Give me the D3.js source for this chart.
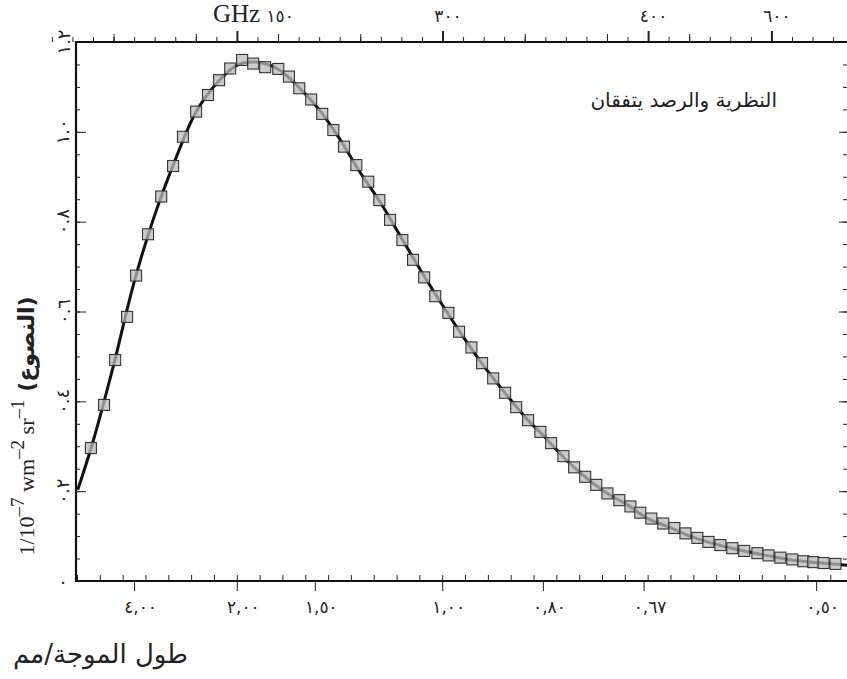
<!DOCTYPE html>
<html>
<head>
<meta charset="utf-8">
<script src="https://cdn.jsdelivr.net/npm/d3@7"></script>
<style>
body{margin:0;background:#fff}
svg{display:block}
</style>
</head>
<body>
<script>
const m={width:847,height:679,left:76,top:42,right:849,bottom:581}

// measured points, x in cm-1, y in 1e-7 W m-2 sr-1
const obsNu=[1.45,1.77,2.04,2.33,2.55,2.84,3.16,3.45,3.69,4.01,4.30,4.57,4.84,5.13,5.40,5.69,6.01,6.27,6.52,6.81,7.08,7.35,7.61,7.91,8.20,8.47,8.73,9.03,9.29,9.56,9.83,10.15,10.41,10.71,10.97,11.24,11.53,11.80,12.09,12.39,12.65,12.95,13.21,13.48,13.75,14.02,14.31,14.58,14.82,15.09,15.38,15.65,15.92,16.21,16.48,16.77,17.06,17.35,17.67,17.94,18.23,18.52,18.79,19.03,19.28,19.57]
const obsVal=[0.296,0.392,0.492,0.588,0.680,0.772,0.856,0.924,0.989,1.045,1.082,1.115,1.141,1.160,1.152,1.144,1.140,1.123,1.097,1.072,1.040,1.004,0.967,0.926,0.889,0.848,0.804,0.759,0.715,0.676,0.634,0.597,0.555,0.520,0.485,0.451,0.419,0.387,0.358,0.332,0.307,0.278,0.253,0.232,0.214,0.195,0.180,0.166,0.152,0.139,0.128,0.118,0.106,0.096,0.087,0.080,0.073,0.067,0.062,0.057,0.052,0.048,0.044,0.042,0.040,0.038]

// theory curve
const fitNu=[1.13,1.5,2,2.5,3,3.5,4,4.5,5,5.5,6,6.5,7,7.5,8,8.5,9,9.5,10,10.5,11,11.5,12,12.5,13,13.5,14,14.5,15,15.5,16,16.5,17,17.5,18,18.5,19,19.86]
const fitVal=[0.203,0.31,0.48,0.665,0.814,0.937,1.043,1.107,1.148,1.155,1.14,1.10,1.05,0.985,0.91,0.842,0.765,0.688,0.615,0.545,0.48,0.422,0.367,0.32,0.271,0.23,0.196,0.17,0.139,0.121,0.101,0.086,0.074,0.064,0.055,0.047,0.042,0.035]

const yTicks=[0,0.2,0.4,0.6,0.8,1.0,1.2]
const yLabels=["٠","٠.٢","٠.٤","٠.٦","٠.٨","١.٠","١.٢"]
const wlTicks=[2.5,5,6.9,10,12.45,14.9,19.1]
const wlLabels=["٤,٠٠","٢,٠٠","١,٥٠","١,٠٠","٠,٨٠","٠,٦٧","٠,٥٠"]
const ghzTicks=[150,300,450,540]
const ghzLabels=["GHz ١٥٠","٣٠٠","٤٠٠","٦٠٠"]

const svg=d3.select("body").append("svg")
    .attr("width",m.width)
    .attr("height",m.height)

const x=d3.scaleLinear().domain([1.087,19.9]).range([m.left,m.right])
const xTop=d3.scaleLinear().domain(x.domain().map(v=>v*29.98)).range(x.range())
const y=d3.scaleLinear().domain([0,1.2]).range([m.bottom,m.top])

const digitFont="DejaVu Sans, sans-serif"

// left + right ticks every 0.05
const yMinor=d3.range(0,25).map(i=>i*0.05)
svg.append("g").attr("transform","translate("+m.left+",0)")
    .call(d3.axisLeft(y).tickValues(yMinor).tickSize(-4).tickFormat(""))
svg.append("g").attr("transform","translate("+m.left+",0)")
    .call(d3.axisLeft(y).tickValues(yTicks).tickSize(-10).tickFormat(""))
svg.append("g").attr("transform","translate("+m.right+",0)")
    .call(d3.axisRight(y).tickValues(yMinor).tickSize(-6).tickFormat(""))
svg.append("g").attr("transform","translate("+m.right+",0)")
    .call(d3.axisRight(y).tickValues(yTicks).tickSize(-10).tickFormat(""))

// bottom ticks
const wlMinor=d3.range(-16,18).map(k=>10+k*5/9).filter(v=>v>1.1&&v<19.9)
svg.append("g").attr("transform","translate(0,"+m.bottom+")")
    .call(d3.axisBottom(x).tickValues(wlMinor).tickSize(-6).tickFormat(""))
const gb=svg.append("g").attr("transform","translate(0,"+m.bottom+")")
    .call(d3.axisBottom(x).tickValues(wlTicks).tickSize(10).tickPadding(10)
        .tickFormat((d,i)=>wlLabels[i]))
gb.selectAll("text").attr("dx",6).style("font-family",digitFont).style("font-size","17px")
    .style("letter-spacing","2.5px").attr("fill","#222")

// top ticks (GHz)
svg.append("g").attr("transform","translate(0,"+m.top+")")
    .call(d3.axisTop(xTop).tickValues(d3.range(15,600,15)).tickSize(5).tickFormat(""))
svg.append("g").attr("transform","translate(0,"+m.top+")")
    .call(d3.axisTop(xTop).tickValues(d3.range(60,600,60)).tickSize(8).tickFormat(""))
const gt=svg.append("g").attr("transform","translate(0,"+m.top+")")
    .call(d3.axisTop(xTop).tickValues(ghzTicks).tickSize(11).tickPadding(9)
        .tickFormat((d,i)=>ghzLabels[i]))
gt.selectAll("line").attr("stroke-width",2)
gt.selectAll("text").style("font-family",digitFont).style("font-size","17px")
    .style("letter-spacing","2.5px").attr("fill","#222")
    .attr("dx",(d,i)=>i==0?16:5)
gt.selectAll("text").filter((d,i)=>i==0).text(null).call(t=>{
    t.append("tspan").text("GHz ").style("font-family","Liberation Serif, serif").style("font-size","25px").style("letter-spacing","0px")
    t.append("tspan").text("١٥٠")
})

svg.selectAll(".domain").remove()
svg.selectAll(".tick line").attr("stroke","#222")

// frame
svg.append("path")
    .attr("d","M"+m.right+","+m.top+"H"+m.left+"V"+m.bottom+"H"+m.right)
    .attr("fill","none").attr("stroke","#111").attr("stroke-width",2.2)

// y tick labels, rotated
svg.append("g").selectAll("text")
    .data(yTicks)
    .enter().append("text")
    .attr("x",63).attr("y",d=>y(d))
    .attr("transform",d=>d==0?null:"rotate(-90,63,"+y(d)+")")
    .attr("text-anchor","middle")
    .attr("dominant-baseline","central")
    .style("font-family",digitFont).style("font-size","18px")
    .style("letter-spacing","2px").attr("fill","#222")
    .text((d,i)=>yLabels[i])

// theory line
const line=d3.line().x((d,i)=>x(fitNu[i])).y(d=>y(d)).curve(d3.curveCatmullRom)
svg.append("path")
    .attr("d",line(fitVal))
    .attr("fill","none").attr("stroke","#111").attr("stroke-width",3)

// observed squares
const s=11
svg.append("g").selectAll("rect")
    .data(obsVal)
    .enter().append("rect")
    .attr("x",(d,i)=>x(obsNu[i])-s/2)
    .attr("y",d=>y(d)-s/2)
    .attr("width",s).attr("height",s)
    .attr("fill","#b9b9b9").attr("fill-opacity",0.75)
    .attr("stroke","#333").attr("stroke-width",1.1)

// texts
svg.append("text")
    .attr("x",777).attr("y",107)
    .attr("text-anchor","end")
    .style("font-family",digitFont).style("font-size","20px").attr("fill","#222")
    .text("النظرية والرصد يتفقان")

svg.append("text")
    .attr("x",13).attr("y",663)
    .style("font-family",digitFont).style("font-size","26px").attr("fill","#222")
    .text("طول الموجة/مم")

const yt=svg.append("text")
    .attr("transform","translate(34,426) rotate(-90)")
    .attr("text-anchor","middle")
    .style("font-family","Liberation Serif, serif").style("font-size","22px").attr("fill","#222")
yt.append("tspan").text("1/10")
yt.append("tspan").text("–7").attr("baseline-shift","super").style("font-size","19px")
yt.append("tspan").text(" wm")
yt.append("tspan").text("–2").attr("baseline-shift","super").style("font-size","19px")
yt.append("tspan").text(" sr")
yt.append("tspan").text("–1").attr("baseline-shift","super").style("font-size","19px")
yt.append("tspan").text(" (النصوع)").style("font-family",digitFont).style("font-size","22px").style("font-weight","bold")
</script>
</body>
</html>
